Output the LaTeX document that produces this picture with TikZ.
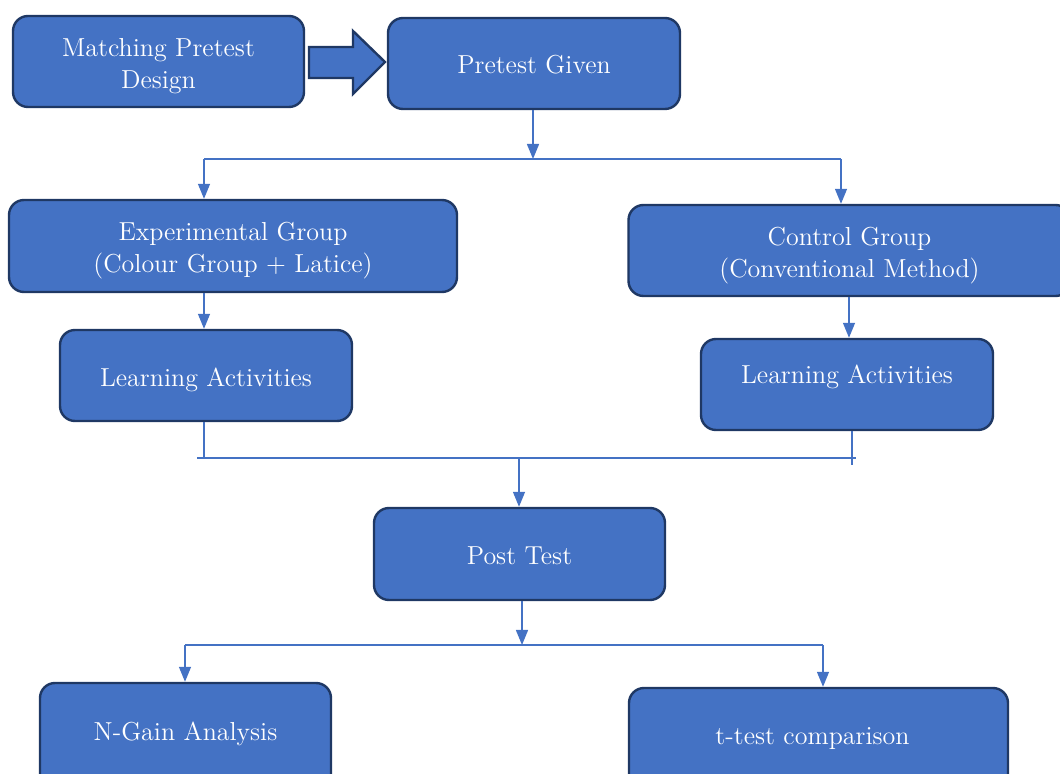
\documentclass[tikz,border=0pt]{standalone}
\usetikzlibrary{arrows.meta}
\definecolor{boxblue}{HTML}{4472C4}
\definecolor{boxedge}{HTML}{1F3864}
\newcommand{\shifttext}[2]{\raisebox{#1}[\height][\depth]{#2}}
\newcommand{\twolines}[3]{\shifttext{#1}{\begin{tabular}{@{}c@{}}#2\\#3\end{tabular}}}
\begin{document}
\begin{tikzpicture}[x=0.5pt,y=-0.5pt,
  box/.style={draw=boxedge,line width=1.2pt,fill=boxblue,rounded corners=7.5pt,
    text=white,align=center,font=\fontsize{13}{16}\selectfont,inner sep=0pt},
  conn/.style={draw=boxblue,line width=0.7pt},
  arr/.style={conn,-{Triangle[length=7.5pt,width=6pt]}}]
\useasboundingbox (0,0) rectangle (1060,774);
\begin{scope}
\clip (0,0) rectangle (1060,774);
\node[box,minimum width=145.5pt,minimum height=45.5pt] (mpd) at (158.5,61.5) {\twolines{-2.25pt}{Matching Pretest}{Design}};
\node[box,minimum width=146pt,minimum height=45.5pt] (pg) at (534,63.5) {\shifttext{-0.5pt}{Pretest Given}};
\draw[fill=boxblue,draw=boxedge,line width=1.2pt,line join=miter]
  (309,47) -- (353,47) -- (353,31) -- (385,62) -- (353,94) -- (353,78) -- (309,78) -- cycle;
\node[box,minimum width=224pt,minimum height=46pt] (exp) at (233,246) {\twolines{-2.25pt}{Experimental Group}{(Colour Group + Latice)}};
\node[box,minimum width=221pt,minimum height=45.5pt] (ctl) at (849.5,250.5) {\twolines{-2.25pt}{Control Group}{(Conventional Method)}};
\node[box,minimum width=146pt,minimum height=45.5pt] (la1) at (206,375.5) {\shifttext{-2pt}{Learning Activities}};
\node[box,minimum width=146pt,minimum height=45.5pt] (la2) at (847,384.5) {\shifttext{4pt}{Learning Activities}};
\node[box,minimum width=145.5pt,minimum height=46pt] (pt) at (519.5,554) {\shifttext{-1pt}{Post Test}};
\node[box,minimum width=145.5pt,minimum height=55pt] (ng) at (185.5,738) {\shifttext{2pt}{N-Gain Analysis}};
\node[box,minimum width=189.5pt,minimum height=55pt] (tt) at (818.5,743) {\hspace*{-6pt}\shifttext{2pt}{t-test comparison}};
% top split
\coordinate (j1) at (533,159);
\coordinate (j1L) at (204,159);
\coordinate (j1R) at (841,159);
\draw[arr] (pg.south -| j1) -- (j1);
\draw[conn] (j1L) -- (j1R);
\draw[arr] (j1L) -- (j1L |- exp.north);
\draw[arr] (j1R) -- (j1R |- ctl.north);
% to learning activities
\coordinate (a1) at (204,0);
\coordinate (a2) at (849,0);
\draw[arr] (a1 |- exp.south) -- (a1 |- la1.north);
\draw[arr] (a2 |- ctl.south) -- (a2 |- la2.north);
% merge
\coordinate (m1L) at (197,458);
\coordinate (m1R) at (856,458);
\coordinate (mc) at (519,458);
\coordinate (a3) at (852,465);
\draw[conn] (a1 |- la1.south) -- (a1 |- m1L);
\draw[conn] (a3 |- la2.south) -- (a3);
\draw[conn] (m1L) -- (m1R);
\draw[arr] (mc) -- (mc |- pt.north);
% bottom split
\coordinate (j2) at (522,645);
\coordinate (j2L) at (185,645);
\coordinate (j2R) at (823,645);
\draw[arr] (pt.south -| j2) -- (j2);
\draw[conn] (j2L) -- (j2R);
\draw[arr] (j2L) -- (j2L |- ng.north);
\draw[arr] (j2R) -- (j2R |- tt.north);
\end{scope}
\end{tikzpicture}
\end{document}
